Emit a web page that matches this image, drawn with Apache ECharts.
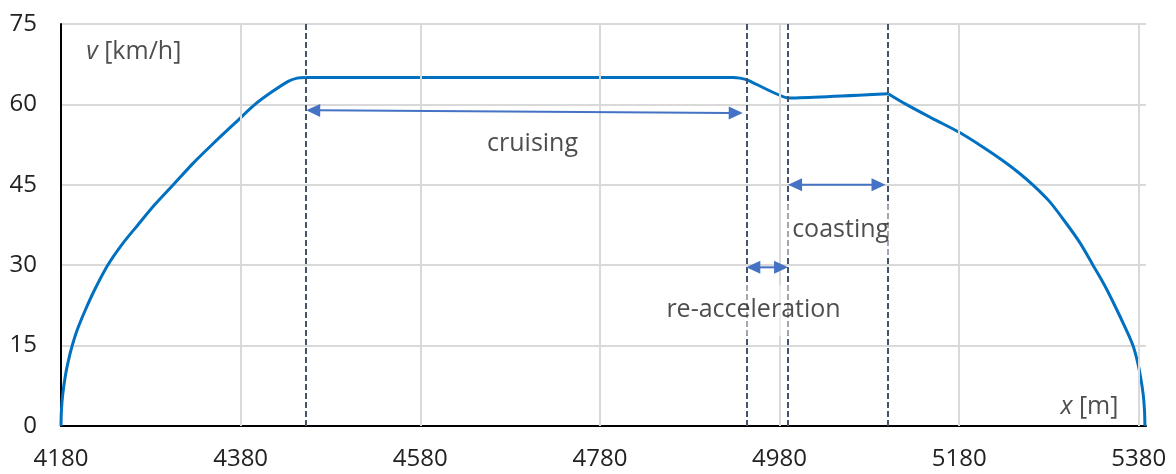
<!DOCTYPE html>
<html>
<head>
<meta charset="utf-8">
<script src="https://cdn.jsdelivr.net/npm/echarts@6/dist/echarts.min.js"></script>
<style>html,body{margin:0;padding:0;background:#fff}#c{width:1176px;height:474px}</style>
</head>
<body>
<div id="c"></div>
<script>
// ---- data ----
// acceleration phase
const accelDistance = [4180, 4180.5, 4182, 4185, 4188, 4192, 4198, 4207, 4218, 4232, 4248, 4266, 4285, 4305, 4327, 4349.5, 4373, 4396, 4414.5, 4433, 4443, 4452];
const accelSpeed    = [0, 3, 6.0, 9.5, 12.0, 14.7, 17.9, 21.6, 25.6, 30, 33.9, 37.6, 41.4, 45, 49, 52.7, 56.4, 60, 62.3, 64.3, 64.9, 65];
// cruising, re-acceleration, coasting
const midDistance = [4452, 4600, 4800, 4928, 4936, 4945, 4989.5, 5101];
const midSpeed    = [65, 65, 65, 65, 64.9, 64.5, 61.2, 62.0];
// braking phase
const brakeDistance = [5101, 5121, 5150, 5180, 5205, 5228.8, 5246, 5262, 5280, 5297.5, 5314, 5329, 5342, 5354, 5365, 5373.5, 5378.5, 5381.8, 5384.8, 5386.3, 5386.8];
const brakeSpeed    = [62.0, 60, 57.4, 54.8, 52.2, 49.5, 47.3, 45, 42.0, 38.2, 34.3, 30, 26.2, 22.2, 18.3, 15, 12, 9.3, 6, 3, 0];

const xTicks = [4180, 4380, 4580, 4780, 4980, 5180, 5380];
const yTicks = [0, 15, 30, 45, 60, 75];
const phaseBoundaries = [4453, 4943, 4989.5, 5100];
const arrowNames = ['cruising', 'coasting', 're-acceleration'];
const arrowStart = [[4453, 58.9], [4989.5, 45], [4943, 29.6]];
const arrowEnd = [[4939, 58.4], [5098, 45], [4989.5, 29.6]];
const labelPos = [[4705, 52.6], [5048, 36.6], [4951, 21.6]];
const axisNames = ['{i|v} [km/h]', '{i|x} [m]'];
const axisNamePos = [[4261, 69.8], [5325, 3.5]];

// ---- chart ----
const FONT = 'Open Sans';
const TXT = '#222222';
const ARROW = '#4472C4';
const chart = echarts.init(document.getElementById('c'), null, {renderer: 'canvas'});
const pairs = (xs, ys) => xs.map((d, i) => [d, ys[i]]);
const curveStyle = {color: '#0070C0', width: 3};

function renderArrow(params, api) {
  const p1 = api.coord([api.value(0), api.value(1)]);
  const p2 = api.coord([api.value(2), api.value(3)]);
  const dx = p2[0] - p1[0], dy = p2[1] - p1[1];
  const len = Math.hypot(dx, dy) || 1;
  const ux = dx / len, uy = dy / len, nx = -uy, ny = ux;
  const L = 14, W = 6.5;
  const head = (tip, s) => {
    const bx = tip[0] + s * ux * L, by = tip[1] + s * uy * L;
    return {type: 'polygon', shape: {points: [tip, [bx + nx * W, by + ny * W], [bx - nx * W, by - ny * W]]}, style: {fill: ARROW}};
  };
  return {
    type: 'group',
    children: [
      {type: 'line', shape: {x1: p1[0] + ux * (L - 2), y1: p1[1] + uy * (L - 2), x2: p2[0] - ux * (L - 2), y2: p2[1] - uy * (L - 2)},
       style: {stroke: ARROW, lineWidth: 2}},
      head(p1, 1),
      head(p2, -1)
    ]
  };
}

const boxed = {backgroundColor: 'rgba(255,255,255,0.62)', padding: [13, 8, 13, 8]};

chart.setOption({
  animation: false,
  backgroundColor: '#fff',
  grid: {left: 61, right: 30, top: 24, bottom: 48, containLabel: false},
  xAxis: {
    type: 'value', min: xTicks[0], max: 5388, interval: 200,
    axisLine: {show: true, onZero: false, lineStyle: {color: '#000', width: 2}},
    axisTick: {show: false},
    splitLine: {show: false},
    axisLabel: {showMaxLabel: false, formatter: v => String(v), color: TXT, fontFamily: FONT, fontSize: 24, margin: 21}
  },
  yAxis: {
    type: 'value', min: yTicks[0], max: yTicks[yTicks.length - 1], interval: 15,
    axisLine: {show: true, lineStyle: {color: '#000', width: 2}},
    axisTick: {show: false},
    splitLine: {show: true, lineStyle: {color: '#d9d9d9', width: 2}},
    axisLabel: {formatter: v => String(v), color: TXT, fontFamily: FONT, fontSize: 24, margin: 24}
  },
  series: [
    {
      type: 'scatter', data: [], z: 1, silent: true,
      markLine: {
        silent: true, symbol: 'none', label: {show: false},
        lineStyle: {color: '#d9d9d9', width: 2, type: 'solid'},
        data: xTicks.slice(1).map(v => ({xAxis: v}))
      }
    },
    {
      type: 'scatter', data: [], z: 3, silent: true,
      markLine: {
        silent: true, symbol: 'none', label: {show: false},
        lineStyle: {color: '#44546A', width: 2, type: [6, 3]},
        data: phaseBoundaries.map(v => ({xAxis: v}))
      }
    },
    {type: 'line', data: pairs(accelDistance, accelSpeed), z: 4, showSymbol: false, smooth: 0.3, lineStyle: curveStyle},
    {type: 'line', data: pairs(midDistance, midSpeed), z: 4, showSymbol: false, smooth: 0.15, lineStyle: curveStyle},
    {type: 'line', data: pairs(brakeDistance, brakeSpeed), z: 4, showSymbol: false, smooth: 0.3, lineStyle: curveStyle},
    {
      type: 'scatter', symbolSize: 0, z: 5, silent: true,
      data: labelPos.map((p, i) => ({value: p, name: arrowNames[i], label: i > 0 ? boxed : {}})),
      label: {show: true, position: 'inside', formatter: p => p.name, color: TXT, fontFamily: FONT, fontSize: 25}
    },
    {
      type: 'custom', z: 6, silent: true,
      encode: {x: [0, 2], y: [1, 3]},
      data: arrowStart.map((s, i) => [s[0], s[1], arrowEnd[i][0], arrowEnd[i][1]]),
      renderItem: renderArrow
    },
    {
      type: 'scatter', symbolSize: 0, z: 6, silent: true,
      data: axisNamePos.map((p, i) => ({value: p, name: axisNames[i]})),
      label: {
        show: true, position: 'inside', formatter: p => p.name, color: TXT, fontFamily: FONT, fontSize: 25,
        rich: {i: {fontStyle: 'italic', color: TXT, fontFamily: FONT, fontSize: 25}}
      }
    }
  ]
});
</script>
</body>
</html>
